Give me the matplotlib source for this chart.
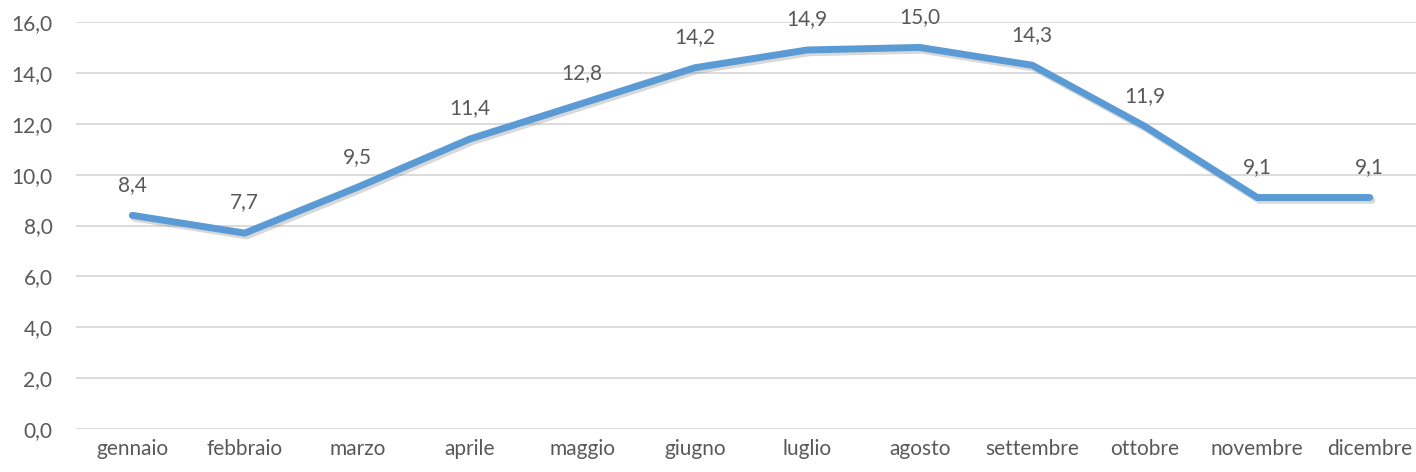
import matplotlib
matplotlib.use("Agg")
import matplotlib.pyplot as plt
import matplotlib.patheffects as pe
from matplotlib.ticker import FuncFormatter

months = ["gennaio", "febbraio", "marzo", "aprile", "maggio", "giugno",
          "luglio", "agosto", "settembre", "ottobre", "novembre", "dicembre"]
values = [8.4, 7.7, 9.5, 11.4, 12.8, 14.2, 14.9, 15.0, 14.3, 11.9, 9.1, 9.1]
yticks = [0, 2, 4, 6, 8, 10, 12, 14, 16]

plt.rcParams['font.family'] = ['Lato', 'DejaVu Sans']
text_color = "#595959"
fs = 15

fig = plt.figure(figsize=(14.16, 4.72), dpi=100)
W, H = 1416, 472
ax = fig.add_axes([76 / W, 43 / H, 1350 / W, 407 / H])

x = list(range(len(months)))
ax.plot(x, values, color="#5B9BD5", linewidth=5.0, solid_capstyle="round",
        solid_joinstyle="miter", zorder=3,
        path_effects=[pe.SimpleLineShadow(offset=(1.5, -2.0), shadow_color="#7f7f7f", alpha=0.3),
                      pe.Normal()])

for xi, v in zip(x, values):
    ax.annotate(f"{v:.1f}".replace(".", ","), (xi, v), xytext=(0, 22),
                textcoords="offset points", ha="center", va="center",
                fontsize=fs, color=text_color)

ax.set_xlim(-0.5, 11.5)
ax.set_ylim(0, 16)
ax.set_yticks(yticks)
ax.yaxis.set_major_formatter(FuncFormatter(lambda v, p: f"{v:.1f}".replace(".", ",")))
ax.set_xticks(x)
ax.set_xticklabels(months)
ax.tick_params(axis="both", length=0, labelsize=fs, colors=text_color)
ax.tick_params(axis="y", pad=17)
ax.tick_params(axis="x", pad=7)
for s in ax.spines.values():
    s.set_visible(False)
ax.grid(axis="y", color="#D9D9D9", linewidth=1.3, zorder=0)
ax.set_axisbelow(True)

fig.savefig("out.png", dpi=100)
